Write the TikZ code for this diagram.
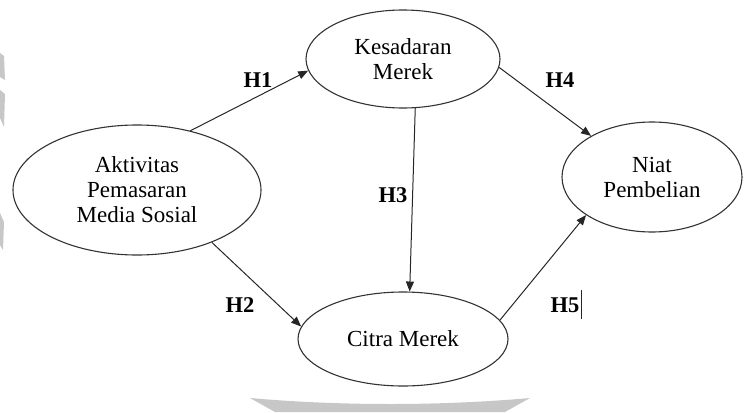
\documentclass[tikz,border=0pt]{standalone}
\usepackage{fontspec}
\setmainfont{Liberation Serif}
\usetikzlibrary{shapes.geometric,arrows.meta}

\begin{document}
\begin{tikzpicture}[x=1pt,y=-1pt,-{Triangle[length=10pt,width=8pt]},draw=black!85,line width=1pt]
  \tikzstyle{construct}=[ellipse,draw=black!80,line width=1.1pt,inner sep=0pt,align=center,font=\fontsize{23}{25}\selectfont]
  \tikzstyle{hyp}=[font=\fontsize{22.5}{25}\selectfont\bfseries]

  \useasboundingbox (0,0) rectangle (749,412);

  % faint watermark pieces
  \fill[black!22] (250,398) .. controls (340,406) and (440,406) .. (530,398) -- (505,412) -- (275,412) -- cycle;
  \fill[black!22] (0,53) -- (4,56) -- (5,80) -- (0,77) -- cycle;
  \fill[black!22] (0,90) -- (5,94) -- (4,127) -- (0,118) -- cycle;
  \fill[black!22] (0,213) -- (4,222) -- (3,250) -- (0,245) -- cycle;

  \node[construct, minimum width=248pt, minimum height=130pt] (amms) at (137,190) {Aktivitas\\Pemasaran\\Media Sosial};
  \node[construct, minimum width=194pt, minimum height=98pt] (kes) at (403,59) {Kesadaran\\Merek};
  \node[construct, minimum width=180pt, minimum height=110pt] (niat) at (652,177) {Niat\\Pembelian};
  \node[construct, minimum width=210pt, minimum height=94pt] (citra) at (403,339) {Citra Merek};

  \draw (amms.48) -- (kes.187);
  \draw (amms.-35) -- (citra.173);
  \draw (kes.-76) -- (citra.82);
  \draw (kes.-5) -- (niat.146);
  \draw (citra.11) -- (niat.210);

  \node[hyp] (h1) at (258,80) {H1};
  \node[hyp] (h2) at (240,305) {H2};
  \node[hyp] (h3) at (393,195) {H3};
  \node[hyp] (h4) at (560,80) {H4};
  \node[hyp] (h5) at (565,305) {H5};
  \draw[-, line width=0.7pt] ([xshift=-2pt,yshift=4pt]h5.north east) -- ([xshift=-2pt,yshift=-3pt]h5.south east);

\end{tikzpicture}
\end{document}
